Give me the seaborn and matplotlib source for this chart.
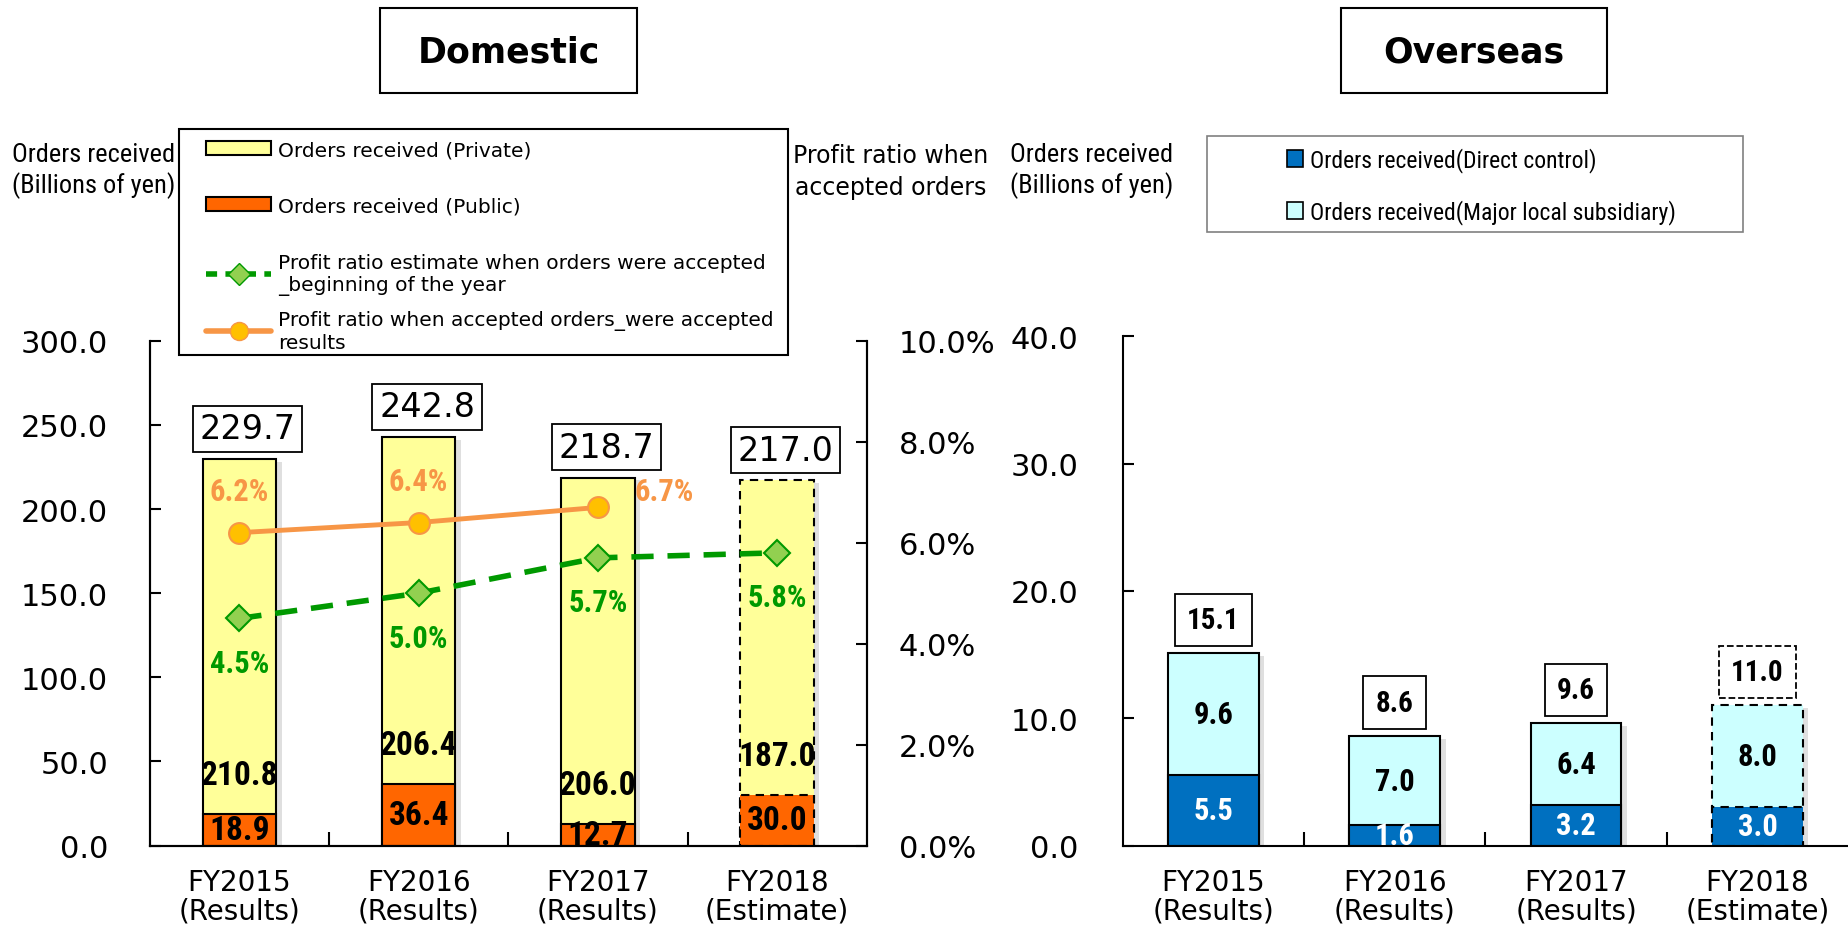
import numpy as np
import pandas as pd
import matplotlib.pyplot as plt
import matplotlib.patheffects as pe
from matplotlib.patches import Patch, Rectangle
from matplotlib.lines import Line2D
from matplotlib.ticker import FuncFormatter
import seaborn as sns

# data
years = ["FY2015\n(Results)", "FY2016\n(Results)", "FY2017\n(Results)", "FY2018\n(Estimate)"]

dom_private = [210.8, 206.4, 206.0, 187.0]
dom_public = [18.9, 36.4, 12.7, 30.0]
dom_total = [229.7, 242.8, 218.7, 217.0]
ratio_estimate = [4.5, 5.0, 5.7, 5.8]
ratio_results = [6.2, 6.4, 6.7]

ovs_direct = [5.5, 1.6, 3.2, 3.0]
ovs_subsidiary = [9.6, 7.0, 6.4, 8.0]
ovs_total = [15.1, 8.6, 9.6, 11.0]

YELLOW = "#FFFF99"
ORANGE = "#FF6600"
GREEN = "#009900"
LGREEN = "#92D050"
ORANGE_LINE = "#F79646"
GOLD = "#FFC000"
BLUE = "#0070C0"
CYAN = "#CCFFFF"

sns.set_style("white")
plt.rcParams['font.family'] = ['DejaVu Sans']
for k in ['text.color', 'axes.labelcolor', 'xtick.color', 'ytick.color']:
    plt.rcParams[k] = 'black'
NARROW = ['Roboto Condensed', 'DejaVu Sans Condensed', 'DejaVu Sans']
nb = dict(family=NARROW, fontstretch='condensed', fontweight='bold')

fig = plt.figure(figsize=(18.49, 9.29), dpi=100)
ax = fig.add_axes([0.081, 0.0888, 0.3878, 0.5432])
ax2 = ax.twinx()
ax3 = fig.add_axes([0.6071, 0.0888, 0.3925, 0.5482])

shadow = [pe.SimplePatchShadow(offset=(4, -2), shadow_rgbFace='gray', alpha=0.25), pe.Normal()]

# %% Domestic
df_dom = pd.DataFrame({'year': years, 'total': dom_total, 'public': dom_public})
sns.barplot(data=df_dom, x='year', y='total', color=YELLOW, saturation=1, width=0.41,
            edgecolor='black', linewidth=1.5, errorbar=None, ax=ax)
sns.barplot(data=df_dom, x='year', y='public', color=ORANGE, saturation=1, width=0.41,
            edgecolor='black', linewidth=1.5, errorbar=None, ax=ax)
for p in ax.patches[:4]:
    p.set_path_effects(shadow)
ax.patches[3].set_linestyle((0, (4, 3)))
ax.patches[7].set_linestyle((0, (4, 3)))

for i in range(len(years)):
    ax.text(i, dom_public[i] / 2, f"{dom_public[i]:.1f}", ha='center', va='center', fontsize=24, **nb)
    ax.annotate(f"{dom_private[i]:.1f}", (i, dom_public[i]), xytext=(0, 28), textcoords='offset points',
                ha='center', va='center', fontsize=24, **nb)
    ax.annotate(f"{dom_total[i]:.1f}", (i, dom_total[i]), xytext=(6, 10), textcoords='offset points',
                ha='center', va='bottom', fontsize=24,
                bbox=dict(boxstyle='square,pad=0.2', fc='white', ec='black', lw=1.3))

ax.set_xlim(-0.5, 3.5)
ax.set_ylim(0, 300)
ax.set_yticks(np.arange(0, 301, 50))
ax.yaxis.set_major_formatter(FuncFormatter(lambda v, p: f"{v:.1f}"))
ax.set_xlabel('')
ax.set_ylabel('')
ax.tick_params(axis='y', direction='in', length=8, width=1.5, pad=30, labelsize=22, left=True)
ax.tick_params(axis='x', which='major', length=0, pad=16, labelsize=20)
ax.set_xticks([0.5, 1.5, 2.5], minor=True)
ax.tick_params(axis='x', which='minor', direction='in', length=10, width=1.5, bottom=True)
for t in ax.get_xticklabels():
    t.set_linespacing(1.05)

sns.lineplot(x=np.arange(len(ratio_estimate)), y=ratio_estimate, ax=ax2, color=GREEN, linewidth=4,
             linestyle=(0, (4, 2.5)), marker='D', markersize=13, markerfacecolor=LGREEN,
             markeredgecolor=GREEN, markeredgewidth=1.5)
sns.lineplot(x=np.arange(len(ratio_results)), y=ratio_results, ax=ax2, color=ORANGE_LINE, linewidth=3.5,
             marker='o', markersize=15, markerfacecolor=GOLD, markeredgecolor=ORANGE_LINE,
             markeredgewidth=1.5)

for i, v in enumerate(ratio_estimate):
    ax2.annotate(f"{v:.1f}%", (i, v), xytext=(0, -32), textcoords='offset points', ha='center',
                 va='center', fontsize=22, color=GREEN, **nb)
for i, v in enumerate(ratio_results):
    if i == len(ratio_results) - 1:
        ax2.annotate(f"{v:.1f}%", (i, v), xytext=(26, 12), textcoords='offset points', ha='left',
                     va='center', fontsize=22, color=ORANGE_LINE, **nb)
    else:
        ax2.annotate(f"{v:.1f}%", (i, v), xytext=(0, 30), textcoords='offset points', ha='center',
                     va='center', fontsize=22, color=ORANGE_LINE, **nb)

ax2.set_ylim(0, 10)
ax2.set_yticks(np.arange(0, 11, 2))
ax2.yaxis.set_major_formatter(FuncFormatter(lambda v, p: f"{v:.1f}%"))
ax2.set_ylabel('')
ax2.tick_params(axis='y', direction='in', length=8, width=1.5, pad=23, labelsize=22, right=True)

for a in (ax, ax2):
    a.spines['top'].set_visible(False)
    for s in a.spines.values():
        s.set_linewidth(1.5)
        s.set_color('black')

# %% Overseas
df_ovs = pd.DataFrame({'year': years, 'total': ovs_total, 'direct': ovs_direct})
sns.barplot(data=df_ovs, x='year', y='total', color=CYAN, saturation=1, width=0.5,
            edgecolor='black', linewidth=1.5, errorbar=None, ax=ax3)
sns.barplot(data=df_ovs, x='year', y='direct', color=BLUE, saturation=1, width=0.5,
            edgecolor='black', linewidth=1.5, errorbar=None, ax=ax3)
for p in ax3.patches[:4]:
    p.set_path_effects(shadow)
ax3.patches[3].set_linestyle((0, (4, 3)))
ax3.patches[7].set_linestyle((0, (4, 3)))

for i in range(len(years)):
    ax3.text(i, ovs_direct[i] / 2, f"{ovs_direct[i]:.1f}", ha='center', va='center', color='white',
             fontsize=22, **nb)
    ax3.text(i, ovs_direct[i] + ovs_subsidiary[i] / 2, f"{ovs_subsidiary[i]:.1f}", ha='center',
             va='center', fontsize=22, **nb)
    ax3.annotate(f"{ovs_total[i]:.1f}", (i, ovs_total[i]), xytext=(0, 14), textcoords='offset points',
                 ha='center', va='bottom', fontsize=21, **nb,
                 bbox=dict(boxstyle='square,pad=0.42', fc='white', ec='black', lw=1.3,
                           ls='--' if i == len(years) - 1 else '-'))

ax3.set_xlim(-0.5, 3.5)
ax3.set_ylim(0, 40)
ax3.set_yticks(np.arange(0, 41, 10))
ax3.yaxis.set_major_formatter(FuncFormatter(lambda v, p: f"{v:.1f}"))
ax3.set_xlabel('')
ax3.set_ylabel('')
ax3.tick_params(axis='y', direction='in', length=8, width=1.5, pad=32, labelsize=22, left=True)
ax3.tick_params(axis='x', which='major', length=0, pad=16, labelsize=20)
ax3.set_xticks([0.5, 1.5, 2.5], minor=True)
ax3.tick_params(axis='x', which='minor', direction='in', length=10, width=1.5, bottom=True)
for t in ax3.get_xticklabels():
    t.set_linespacing(1.05)
ax3.spines['top'].set_visible(False)
ax3.spines['right'].set_visible(False)
for s in ax3.spines.values():
    s.set_linewidth(1.5)
    s.set_color('black')

# %% titles, axis captions, legends
fig.add_artist(Rectangle((0.2054, 0.8985), 0.139, 0.0913, transform=fig.transFigure,
                         fill=False, ec='black', lw=1.5))
fig.text(0.275, 0.944, "Domestic", ha='center', va='center', fontsize=25, fontweight='bold')
fig.add_artist(Rectangle((0.7251, 0.8985), 0.1442, 0.0913, transform=fig.transFigure,
                         fill=False, ec='black', lw=1.5))
fig.text(0.7972, 0.944, "Overseas", ha='center', va='center', fontsize=25, fontweight='bold')

fig.text(0.0504, 0.816, "Orders received\n(Billions of yen)", ha='center', va='center',
         fontsize=19, family=NARROW, fontstretch='condensed', linespacing=1.25)
fig.text(0.4815, 0.815, "Profit ratio when\naccepted orders", ha='center', va='center',
         fontsize=17, linespacing=1.45)
fig.text(0.5906, 0.816, "Orders received\n(Billions of yen)", ha='center', va='center',
         fontsize=19, family=NARROW, fontstretch='condensed', linespacing=1.25)

fig.add_artist(Rectangle((0.0969, 0.6168), 0.3291, 0.2436, transform=fig.transFigure,
                         fc='white', ec='black', lw=1.5, zorder=5))
bar_handles = [Patch(facecolor=YELLOW, edgecolor='black', linewidth=1.5),
               Patch(facecolor=ORANGE, edgecolor='black', linewidth=1.5)]
bar_labels = ["Orders received (Private)", "Orders received (Public)"]
line_handles = [
    Line2D([0], [0], color=GREEN, lw=4, linestyle=(0, (2, 1.5)), marker='D', markersize=11,
           markerfacecolor=LGREEN, markeredgecolor=GREEN),
    Line2D([0], [0], color=ORANGE_LINE, lw=4, marker='o', markersize=13,
           markerfacecolor=GOLD, markeredgecolor=ORANGE_LINE),
]
line_labels = ["Profit ratio estimate when orders were accepted\n_beginning of the year",
               "Profit ratio when accepted orders_were accepted\nresults"]
leg = fig.legend(bar_handles, bar_labels, loc='upper left', bbox_to_anchor=(0.1116, 0.848),
                 frameon=False, borderpad=0, borderaxespad=0, handlelength=3.2, handletextpad=0.35,
                 labelspacing=1.85, fontsize=14.5)
leg.set_zorder(6)
leg_b = fig.legend(line_handles, line_labels, loc='upper left', bbox_to_anchor=(0.1116, 0.727),
                   frameon=False, borderpad=0, borderaxespad=0, handlelength=3.2, handletextpad=0.35,
                   labelspacing=0.75, fontsize=14.5)
leg_b.set_zorder(6)

fig.add_artist(Rectangle((0.653, 0.7487), 0.2896, 0.1041, transform=fig.transFigure,
                         fc='white', ec='#808080', lw=1.2, zorder=5))
ovs_handles = [Patch(facecolor=BLUE, edgecolor='black', linewidth=1.2),
               Patch(facecolor=CYAN, edgecolor='black', linewidth=1.2)]
ovs_labels = ["Orders received(Direct control)", "Orders received(Major local subsidiary)"]
leg2 = fig.legend(ovs_handles, ovs_labels, loc='center', bbox_to_anchor=(0.8013, 0.7989),
                  frameon=False, borderpad=0, borderaxespad=0, handlelength=0.7, handleheight=0.7,
                  handletextpad=0.3, labelspacing=1.15,
                  prop={'family': NARROW, 'size': 17, 'stretch': 'condensed'})
leg2.set_zorder(6)

fig.savefig("out.png", dpi=100)
